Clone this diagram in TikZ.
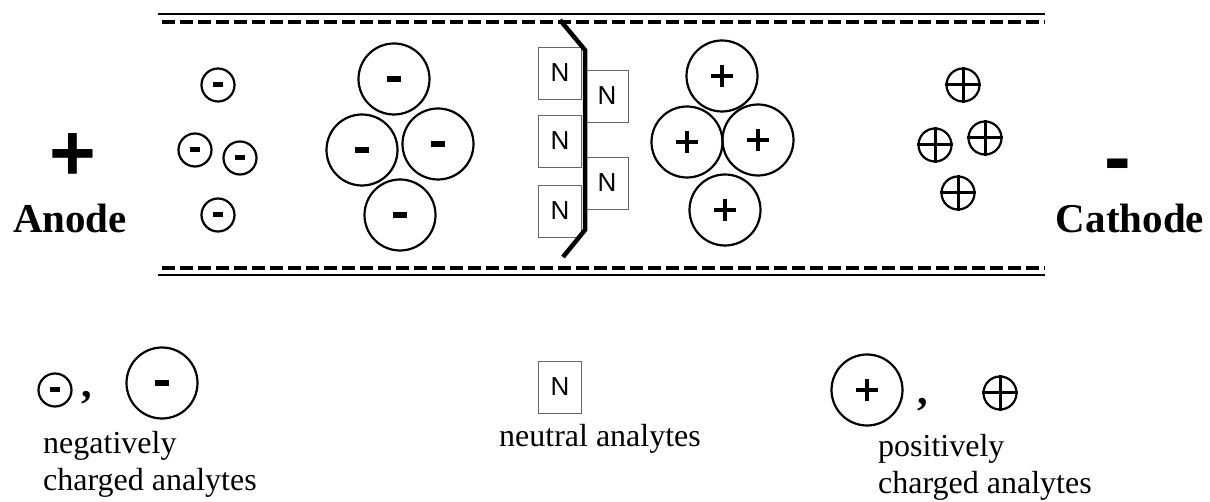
\documentclass[tikz,border=0pt]{standalone}
\usepackage{fontspec}
\setmainfont{Liberation Serif}
\newfontfamily\arialfont{Liberation Sans}
\begin{document}
\begin{tikzpicture}[x=1pt,y=-1pt,
  wall/.style={line width=2.6pt},
  dwall/.style={line width=4pt, dash pattern=on 13pt off 5pt},
  bigion/.style={circle, draw, line width=2.2pt, minimum size=71pt, inner sep=0pt},
  smallion/.style={circle, draw, line width=2.2pt, minimum size=33pt, inner sep=0pt},
  nbox/.style={draw=black!60, line width=0.9pt, minimum width=43pt, minimum height=52pt, inner sep=0pt, font=\arialfont\fontsize{26}{26}\selectfont},
  electrode/.style={font=\bfseries\fontsize{41}{41}\selectfont, inner sep=0pt, anchor=base},
  pole/.style={font=\arialfont\bfseries\fontsize{80}{80}\selectfont, inner sep=0pt, anchor=base},
  legtext/.style={font=\fontsize{32}{37}\selectfont, align=left, inner sep=0pt, anchor=base west},
  comma/.style={font=\bfseries\fontsize{42}{42}\selectfont, inner sep=0pt, anchor=base},
  front/.style={line width=4.5pt},
  bigplus/.style={line width=4.8pt},
  smallplus/.style={line width=3pt}
]
\useasboundingbox (0,0) rectangle (1210,502);

% capillary walls
\coordinate (tl) at (158,14);  \coordinate (tr) at (1045,14);
\coordinate (tdl) at (162,22); \coordinate (tdr) at (1045,22);
\coordinate (bdl) at (162,268); \coordinate (bdr) at (1045,268);
\coordinate (bl) at (158,275); \coordinate (br) at (1045,275);
\draw[wall] (tl) -- (tr);
\draw[dwall] (tdl) -- (tdr);
\draw[dwall] (bdl) -- (bdr);
\draw[wall] (bl) -- (br);

% electrodes
\node[pole] (plus) at (73,181) {+};
\node[electrode] (anode) at (70,233) {Anode};
\node[pole] (minus) at (1118,185) {-};
\node[electrode] (cathode) at (1130,233) {Cathode};

% small negative ions
\node[smallion] (sn1) at (218,85) {};
\node[smallion] (sn2) at (195,150) {};
\node[smallion] (sn3) at (240,158) {};
\node[smallion] (sn4) at (218,215) {};

% large negative ions
\node[bigion] (bn1) at (394,79) {};
\node[bigion] (bn2) at (362,150) {};
\node[bigion] (bn3) at (438,144) {};
\node[bigion] (bn4) at (400,215) {};

% neutral analytes
\node[nbox] (n1) at (560,73) {N};
\node[nbox] (n2) at (607,96) {N};
\node[nbox] (n3) at (560,141) {N};
\node[nbox] (n4) at (607,183) {N};
\node[nbox] (n5) at (560,211) {N};

% EOF front
\coordinate (f1) at (560,20);
\coordinate (f2) at (585,50);
\coordinate (f3) at (585,230);
\coordinate (f4) at (563,257);
\draw[front] (f1) -- (f2) -- (f3) -- (f4);

% large positive ions
\node[bigion] (bp1) at (722,76) {};
\node[bigion] (bp2) at (687,142) {};
\node[bigion] (bp3) at (758,140) {};
\node[bigion] (bp4) at (725,210) {};

% small positive ions
\node[smallion] (sp1) at (963,85) {};
\node[smallion] (sp2) at (935,145) {};
\node[smallion] (sp3) at (985,138) {};
\node[smallion] (sp4) at (958,193) {};

% legend
\node[smallion] (lsn) at (55,390) {};
\node[comma] (lc1) at (87,398) {,};
\node[bigion] (lbn) at (162,383) {};
\node[legtext] (lneg) at (43,490) {negatively\\charged analytes};

\node[nbox] (ln) at (560,387) {N};
\node[legtext, anchor=base] (lneu) at (600,446) {neutral analytes};

\node[bigion] (lbp) at (867,390) {};
\node[comma] (lc2) at (923,404) {,};
\node[smallion] (lsp) at (1000,393) {};
\node[legtext] (lpos) at (878,493) {positively\\charged analytes};

% charge signs
\foreach \n in {bn1,bn2,bn3,bn4,lbn}
  \fill ([xshift=-7pt,yshift=-3pt]\n.center) rectangle ([xshift=7pt,yshift=3pt]\n.center);
\foreach \n in {sn1,sn2,sn3,sn4,lsn}
  \fill ([xshift=-5pt,yshift=-2.5pt]\n.center) rectangle ([xshift=5pt,yshift=2.5pt]\n.center);
\foreach \n in {bp1,bp2,bp3,bp4,lbp}
  \draw[bigplus] ([xshift=-11pt]\n.center) -- ([xshift=11pt]\n.center)
                 ([yshift=-11pt]\n.center) -- ([yshift=11pt]\n.center);
\foreach \n in {sp1,sp2,sp3,sp4,lsp}
  \draw[smallplus] (\n.north) -- (\n.south) (\n.west) -- (\n.east);
\end{tikzpicture}
\end{document}
